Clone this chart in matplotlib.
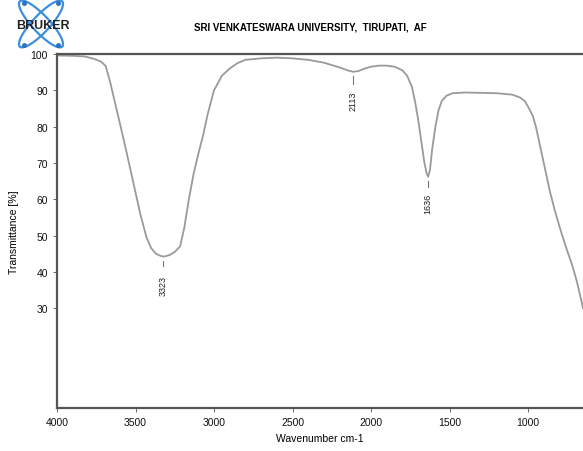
import matplotlib
matplotlib.use("Agg")
import matplotlib.pyplot as plt
from matplotlib.patches import Ellipse

plt.rcParams['font.family'] = ['Liberation Sans Narrow', 'Liberation Sans', 'DejaVu Sans']

# spectrum
wavenumber = [4000, 3900, 3820, 3760, 3720, 3690, 3660, 3630, 3600, 3560, 3516, 3470,
              3430, 3400, 3370, 3340, 3323, 3300, 3280, 3250, 3216, 3190, 3160, 3130,
              3100, 3070, 3040, 3000, 2950, 2900, 2850, 2800, 2700, 2600, 2500, 2400,
              2300, 2200, 2150, 2113, 2080, 2040, 2000, 1950, 1900, 1850, 1800, 1770,
              1740, 1720, 1700, 1680, 1660, 1645, 1636, 1625, 1610, 1590, 1570, 1550,
              1520, 1480, 1400, 1300, 1200, 1100, 1050, 1020, 1000, 970, 950, 920,
              890, 860, 830, 800, 760, 720, 690, 660, 650]
transmittance = [99.6, 99.5, 99.3, 98.6, 97.9, 96.7, 92, 86.5, 81, 73.5, 65, 56,
                 49.5, 46.5, 45, 44.4, 44.2, 44.4, 44.7, 45.5, 47, 52, 60, 67,
                 72.5, 77.5, 83.5, 90, 94, 96, 97.5, 98.4, 98.8, 99, 98.8, 98.4,
                 97.6, 96.3, 95.5, 95.1, 95.3, 96, 96.5, 96.8, 96.8, 96.5, 95.5, 94,
                 91, 87, 82, 76, 70, 67, 66.2, 68, 74, 80, 84.5, 87,
                 88.5, 89.2, 89.4, 89.3, 89.2, 88.8, 88, 87, 85.5, 83, 80, 74,
                 68, 62, 57, 52.5, 47, 42, 37.5, 32, 30]

peaks = [3323, 2113, 1636]
peak_label_y = [36.3, 87.3, 59]
peak_dash = [(41.5, 43), (91.8, 94), (63.4, 65)]

x_ticks = [4000, 3500, 3000, 2500, 2000, 1500, 1000]
y_ticks = [30, 40, 50, 60, 70, 80, 90, 100]

fig = plt.figure(figsize=(5.83, 4.52), dpi=100)
ax = fig.add_axes([57 / 583, 1 - 409 / 452, 1 - 57 / 583, (409 - 55) / 452])

ax.plot(wavenumber, transmittance, color='#9a9a9a', lw=1.3)
for wn, ly, (d0, d1) in zip(peaks, peak_label_y, peak_dash):
    ax.plot([wn, wn], [d0, d1], color='#777777', lw=0.8)
    ax.text(wn, ly, str(wn), rotation=90, ha='center', va='center',
            fontsize=6.5, color='#222222')

ax.set_xlim(4000, 650)
ax.set_ylim(2.5, 100)
ax.set_xticks(x_ticks)
ax.set_yticks(y_ticks)
ax.tick_params(labelsize=7.5, length=3, width=0.6, colors='#555555', labelcolor='#111111')
for s in ['left', 'bottom', 'top']:
    ax.spines[s].set_color('#555555')
    ax.spines[s].set_linewidth(1.6)
ax.spines['right'].set_visible(False)
ax.set_xlabel('Wavenumber cm-1', fontsize=7.5, labelpad=4)
ax.set_ylabel('Transmittance [%]', fontsize=7.5, labelpad=8)

fig.text(310 / 583, 1 - 28 / 452, 'SRI VENKATESWARA UNIVERSITY,  TIRUPATI,  AF',
         ha='center', va='center', fontsize=7, fontweight='bold')

# logo
lax = fig.add_axes([0, 1 - 56 / 452, 90 / 583, 56 / 452])
lax.set_xlim(0, 90)
lax.set_ylim(56, 0)
lax.axis('off')
for ang in [47, -47]:
    lax.add_patch(Ellipse((41, 25), 62, 17, angle=ang, fill=False,
                          ec='#3b8ee0', lw=1.6))
lax.plot([24, 58, 24, 58], [4, 4, 46, 46], 'o', ms=2.5, color='#2a6fc0', ls='none')
lax.text(43, 26, 'BRUKER', ha='center', va='center', fontsize=9,
         fontweight='bold', color='#222222', family='Liberation Sans')

fig.savefig('out.png', dpi=100)
